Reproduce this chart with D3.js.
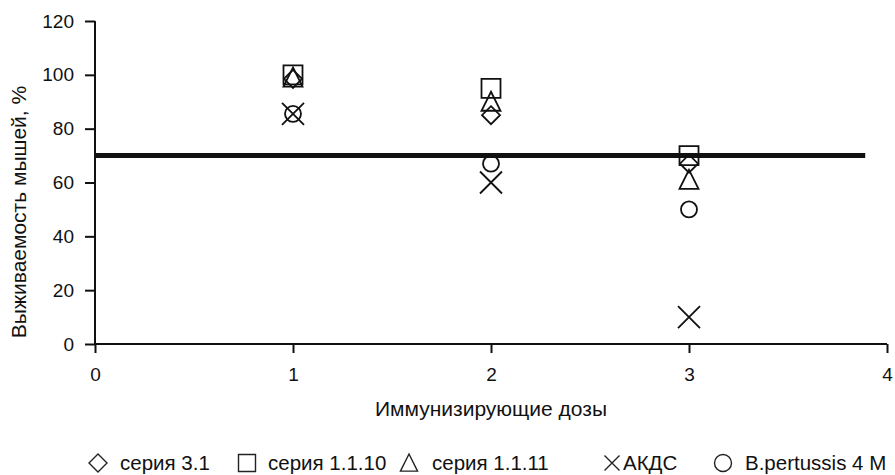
<!DOCTYPE html>
<html><head><meta charset="utf-8">
<script src="https://cdn.jsdelivr.net/npm/d3@7"></script>
<style>body{margin:0;background:#fff}svg{display:block}text{font-family:"Liberation Sans",Arial,sans-serif;fill:#111}</style>
</head><body><svg id="c" width="895" height="475"></svg>
<script>
const doses = [1, 2, 3];
const seria31 = [98.5, 85, 67];
const seria1110 = [100, 95, 70];
const seria1111 = [99, 90, 61];
const akds = [85.5, 60, 10];
const bpert = [85.5, 67, 50];
const thresholdValue = 70;
const xTicks = [0, 1, 2, 3, 4];
const yTicks = [0, 20, 40, 60, 80, 100, 120];
const seriesNames = ["серия 3.1", "серия 1.1.10", "серия 1.1.11", "АКДС", "B.pertussis 4 M"];

const svg = d3.select("#c");
const x = d3.scaleLinear().domain([0, 4]).range([95, 887]);
const y = d3.scaleLinear().domain([0, 120]).range([344, 21]);

const yAxis = svg.append("g").attr("transform", "translate(95,0)")
  .call(d3.axisLeft(y).tickValues(yTicks).tickFormat(d3.format("d")).tickSize(10).tickPadding(11));
const xAxis = svg.append("g").attr("transform", "translate(0,344)")
  .call(d3.axisBottom(x).tickValues(xTicks).tickFormat(d3.format("d")).tickSize(9).tickPadding(15));
[yAxis, xAxis].forEach(a => {
  a.attr("font-size", null).attr("font-family", null);
  a.select(".domain").attr("stroke", "#111").attr("stroke-width", 2);
  a.selectAll(".tick line").attr("stroke", "#111").attr("stroke-width", 2);
  a.selectAll("text").attr("font-size", 19).attr("fill", "#111");
});
yAxis.select(".domain").attr("d", `M0,${y(120)}V${y(0)}`);
xAxis.select(".domain").attr("d", `M${x(0)},0H${x(4)}`);

svg.append("text").attr("transform", `translate(26,${212}) rotate(-90)`)
  .attr("text-anchor", "middle").attr("font-size", 21).text("Выживаемость мышей, %");
svg.append("text").attr("x", 491).attr("y", 416)
  .attr("text-anchor", "middle").attr("font-size", 21).text("Иммунизирующие дозы");

// threshold line
svg.append("line").attr("x1", x(0)).attr("x2", x(3.89))
  .attr("y1", y(thresholdValue)).attr("y2", y(thresholdValue))
  .attr("stroke", "#111").attr("stroke-width", 5);

const shapes = {
  diamond: (s) => `M0,${-s}L${s},0L0,${s}L${-s},0Z`,
  square: (s) => `M${-s},${-s}H${s}V${s}H${-s}Z`,
  triangle: (s) => `M0,${-s}L${s*0.95},${s*0.9}H${-s*0.95}Z`,
  cross: (s) => `M${-s},${-s}L${s},${s}M${s},${-s}L${-s},${s}`,
  circle: (s) => `M${s},0A${s},${s} 0 1,1 ${-s},0A${s},${s} 0 1,1 ${s},0Z`
};
const series = [
  {vals: seria31, shape: "diamond", s: 9, ls: 9},
  {vals: seria1110, shape: "square", s: 9.5, ls: 8.5},
  {vals: seria1111, shape: "triangle", s: 10, ls: 9},
  {vals: akds, shape: "cross", s: 11, ls: 7.5},
  {vals: bpert, shape: "circle", s: 8, ls: 8.5}
];
const drawOrder = [4, 3, 0, 2, 1];
drawOrder.forEach(i => {
  const sr = series[i];
  svg.append("g").selectAll("path").data(sr.vals).join("path")
    .attr("transform", (d, j) => `translate(${x(doses[j])},${y(d)})`)
    .attr("d", shapes[sr.shape](sr.s))
    .attr("fill", "none").attr("stroke", "#111").attr("stroke-width", 1.8);
});

// legend
const legMarkX = [98, 247, 409, 612, 723];
const legTextX = [120, 268, 432, 623, 745];
const lg = svg.append("g");
series.forEach((sr, i) => {
  lg.append("path").attr("transform", `translate(${legMarkX[i]},463)`)
    .attr("d", shapes[sr.shape](sr.ls)).attr("fill", "none")
    .attr("stroke", "#222").attr("stroke-width", 1.4);
  lg.append("text").attr("x", legTextX[i]).attr("y", 470)
    .attr("font-size", 20.5).text(seriesNames[i]);
});
</script></body></html>
